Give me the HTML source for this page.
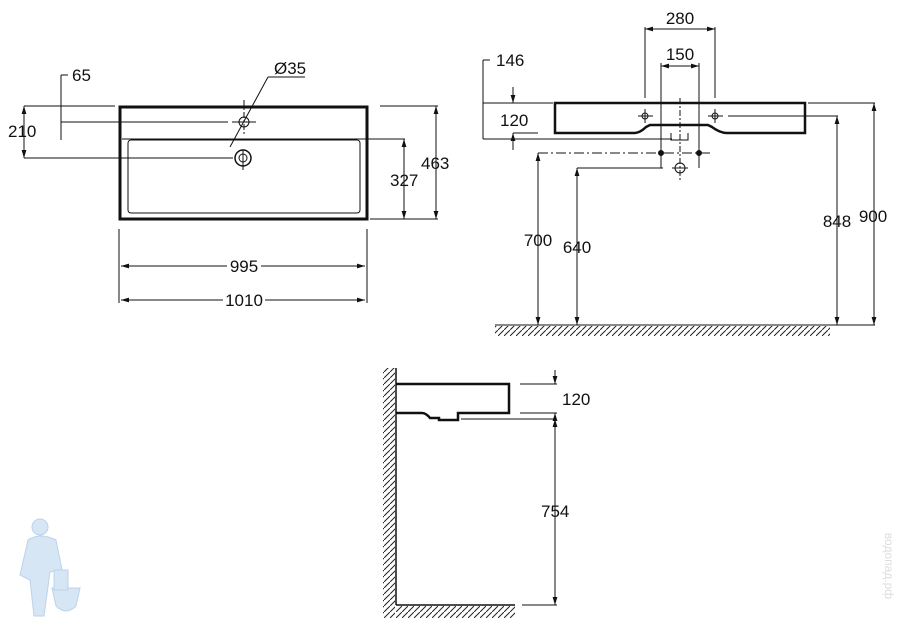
<!DOCTYPE html>
<html><head><meta charset="utf-8"><style>
html,body{margin:0;padding:0;background:#fff;width:900px;height:632px;overflow:hidden}
svg text{font-family:"Liberation Sans",sans-serif;font-size:17px;fill:#111}
</style></head><body>
<svg width="900" height="632" viewBox="0 0 900 632" xmlns="http://www.w3.org/2000/svg">
<defs>
<marker id="a" viewBox="0 0 10 6" refX="10" refY="3" markerWidth="8" markerHeight="5" orient="auto-start-reverse" markerUnits="userSpaceOnUse"><path d="M0,0L10,3L0,6z" fill="#111"/></marker>
<pattern id="h" width="6" height="6" patternUnits="userSpaceOnUse"><path d="M-1,7L7,-1" stroke="#222" stroke-width="1"/></pattern>
</defs>
<g stroke="#111" stroke-width="1" fill="none">
<rect x="120" y="107" width="247" height="112" stroke-width="3"/>
<line x1="122" y1="139" x2="405" y2="139"/>
<rect x="128" y="140" width="232" height="73" rx="3"/>
<circle cx="244" cy="122" r="5"/>
<line x1="244" y1="100" x2="244" y2="134" stroke-dasharray="6,2,2,2"/>
<line x1="232" y1="122" x2="256" y2="122"/>
<circle cx="243" cy="158" r="8" stroke-width="1.5"/>
<circle cx="243" cy="158" r="4"/>
<line x1="243" y1="150" x2="243" y2="170"/>
<line x1="230" y1="147" x2="268" y2="77"/>
<line x1="268" y1="77" x2="305" y2="77"/>
<line x1="61" y1="122" x2="228" y2="122"/>
<line x1="61" y1="75" x2="61" y2="140"/>
<line x1="61" y1="75" x2="68" y2="75"/>
<line x1="24" y1="106" x2="115" y2="106"/>
<line x1="24" y1="158" x2="233" y2="158"/>
<line x1="24" y1="106" x2="24" y2="158" marker-start="url(#a)" marker-end="url(#a)"/>
<line x1="370" y1="219" x2="438" y2="219"/>
<line x1="380" y1="106" x2="438" y2="106"/>
<line x1="404" y1="139" x2="404" y2="219" marker-start="url(#a)" marker-end="url(#a)"/>
<line x1="436" y1="106" x2="436" y2="219" marker-start="url(#a)" marker-end="url(#a)"/>
<line x1="119" y1="229" x2="119" y2="303"/>
<line x1="367" y1="229" x2="367" y2="303"/>
<line x1="121" y1="266" x2="227" y2="266" marker-start="url(#a)"/>
<line x1="261" y1="266" x2="365" y2="266" marker-end="url(#a)"/>
<line x1="121" y1="300" x2="223" y2="300" marker-start="url(#a)"/>
<line x1="265" y1="300" x2="365" y2="300" marker-end="url(#a)"/>
<path d="M555,103H805V133H727Q720,133 712,127L708,125H650L646,127Q640,133 634,133H555Z" stroke-width="2.5"/>
<path d="M671,133V140H688V133"/>
<circle cx="645" cy="116" r="3"/><line x1="638" y1="116" x2="653" y2="116"/><line x1="645" y1="109" x2="645" y2="123"/>
<circle cx="715" cy="116" r="3"/><line x1="708" y1="116" x2="723" y2="116"/><line x1="715" y1="109" x2="715" y2="123"/>
<line x1="680" y1="98" x2="680" y2="180" stroke-dasharray="6,2,2,2"/>
<line x1="645" y1="27" x2="645" y2="98"/><line x1="715" y1="27" x2="715" y2="98"/>
<line x1="645" y1="29" x2="715" y2="29" marker-start="url(#a)" marker-end="url(#a)"/>
<line x1="661" y1="63" x2="661" y2="168"/><line x1="699" y1="63" x2="699" y2="168"/>
<line x1="661" y1="66" x2="699" y2="66" marker-start="url(#a)" marker-end="url(#a)"/>
<line x1="483" y1="60" x2="483" y2="139"/><line x1="483" y1="60" x2="490" y2="60"/>
<line x1="483" y1="103" x2="553" y2="103"/>
<line x1="483" y1="139" x2="672" y2="139"/>
<line x1="513" y1="133" x2="538" y2="133"/>
<line x1="513" y1="87" x2="513" y2="103" marker-end="url(#a)"/>
<line x1="513" y1="150" x2="513" y2="133" marker-end="url(#a)"/>
<line x1="538" y1="153" x2="712" y2="153" stroke-dasharray="10,3,2,3"/>
<line x1="577" y1="168" x2="663" y2="168"/>
<circle cx="661" cy="153" r="2.5" fill="#111"/><circle cx="699" cy="153" r="2.5" fill="#111"/>
<circle cx="680" cy="168" r="5"/><line x1="672" y1="168" x2="688" y2="168"/>
<line x1="538" y1="153" x2="538" y2="325" marker-start="url(#a)" marker-end="url(#a)"/>
<line x1="577" y1="168" x2="577" y2="325" marker-start="url(#a)" marker-end="url(#a)"/>
<line x1="728" y1="116" x2="838" y2="116"/>
<line x1="808" y1="103" x2="875" y2="103"/>
<line x1="837" y1="116" x2="837" y2="325" marker-start="url(#a)" marker-end="url(#a)"/>
<line x1="874" y1="103" x2="874" y2="325" marker-start="url(#a)" marker-end="url(#a)"/>
<line x1="495" y1="325" x2="875" y2="325"/>
<path d="M396,384H509V413H458V420H439V418H430Q426,413 422,413H396" stroke-width="2.5"/>
<line x1="461" y1="419" x2="555" y2="419"/>
<line x1="520" y1="384" x2="557" y2="384"/>
<line x1="520" y1="413" x2="557" y2="413"/>
<line x1="555" y1="370" x2="555" y2="384" marker-end="url(#a)"/>
<line x1="555" y1="427" x2="555" y2="413" marker-end="url(#a)"/>
<line x1="555" y1="419" x2="555" y2="605" marker-start="url(#a)" marker-end="url(#a)"/>
<line x1="522" y1="605" x2="557" y2="605"/>
<line x1="396" y1="368" x2="396" y2="605" stroke-width="1.5"/>
<line x1="396" y1="605" x2="515" y2="605" stroke-width="1.5"/>
</g>
<rect x="495" y="326" width="335" height="10" fill="url(#h)"/>
<rect x="383" y="368" width="12" height="250" fill="url(#h)"/>
<rect x="396" y="606" width="119" height="12" fill="url(#h)"/>
<text x="72" y="81">65</text>
<text x="274" y="74">Ø35</text>
<text x="8" y="137">210</text>
<text x="390" y="186">327</text>
<text x="421" y="169">463</text>
<text x="244" y="272" text-anchor="middle">995</text>
<text x="244" y="306" text-anchor="middle">1010</text>
<text x="680" y="24" text-anchor="middle">280</text>
<text x="680" y="60" text-anchor="middle">150</text>
<text x="496" y="66">146</text>
<text x="500" y="126">120</text>
<text x="538" y="246" text-anchor="middle">700</text>
<text x="577" y="253" text-anchor="middle">640</text>
<text x="837" y="227" text-anchor="middle">848</text>
<text x="873" y="222" text-anchor="middle">900</text>
<text x="562" y="405">120</text>
<text x="541" y="517">754</text>
<g fill="#d6e6f5" stroke="#bcd3ea" stroke-width="1">
<circle cx="40" cy="527" r="8"/>
<path d="M28,540Q40,532 56,540L62,570L50,572L44,616L34,616L30,580L20,575Z"/>
<path d="M52,588H80L76,606Q66,616 56,606Z"/>
<rect x="54" y="570" width="14" height="20"/>
</g>
<text x="885" y="566" transform="rotate(90 885 566)" text-anchor="middle" style="font-size:12px;fill:#ddd">водопад.рф</text>
</svg>
</body></html>
